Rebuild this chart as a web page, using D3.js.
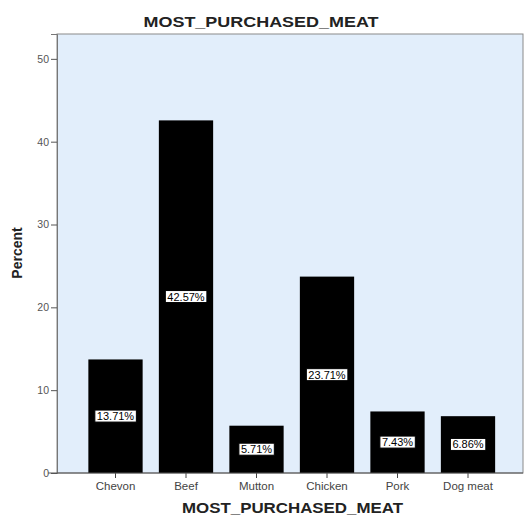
<!DOCTYPE html>
<html>
<head>
<meta charset="utf-8">
<script src="https://cdn.jsdelivr.net/npm/d3@7"></script>
<style>
  body { margin: 0; background: #fff; }
  svg { display: block; font-family: "Liberation Sans", Arial, sans-serif; }
</style>
</head>
<body>
<svg id="chart" width="528" height="519"></svg>
<script>
// Share of respondents by most purchased meat
const categories = ["Chevon", "Beef", "Mutton", "Chicken", "Pork", "Dog meat"];
const percents = [13.71, 42.57, 5.71, 23.71, 7.43, 6.86];
const yTicks = [0, 10, 20, 30, 40, 50];

const svg = d3.select("#chart");
const plot = { left: 57, right: 523, top: 34, bottom: 473 };

const x = d3.scaleBand()
  .domain(categories)
  .range([80.25, 503.25])
  .paddingInner(0.23)
  .paddingOuter(0.115);

const y = d3.scaleLinear()
  .domain([0, 53])
  .range([plot.bottom, plot.top]);

// plot background and frame
svg.append("rect")
  .attr("x", plot.left).attr("y", plot.top)
  .attr("width", plot.right - plot.left)
  .attr("height", plot.bottom - plot.top)
  .attr("fill", "#e2eefb")
  .attr("stroke", "#8a8a8a")
  .attr("stroke-width", 1);

// bars
svg.append("g").selectAll("rect")
  .data(categories)
  .join("rect")
  .attr("x", d => x(d))
  .attr("y", (d, i) => y(percents[i]))
  .attr("width", x.bandwidth())
  .attr("height", (d, i) => y(0) - y(percents[i]))
  .attr("fill", "#000");

// y axis
const yAxis = svg.append("g")
  .attr("transform", `translate(${plot.left},0)`)
  .call(d3.axisLeft(y).tickValues(yTicks).tickSize(6).tickPadding(2).tickFormat(d3.format("d")));
yAxis.select(".domain").attr("stroke", "#777");
yAxis.selectAll(".tick line").attr("stroke", "#555");
yAxis.selectAll(".tick text").attr("fill", "#555").style("font-size", "10.5px");

// x axis
const xAxis = svg.append("g")
  .attr("transform", `translate(0,${plot.bottom})`)
  .call(d3.axisBottom(x).tickSize(5).tickPadding(4));
xAxis.select(".domain").remove();
svg.append("line")
  .attr("x1", plot.left - 9).attr("x2", plot.right)
  .attr("y1", plot.bottom).attr("y2", plot.bottom)
  .attr("stroke", "#555");
xAxis.selectAll(".tick line").attr("stroke", "#444");
xAxis.selectAll(".tick text").attr("fill", "#444").style("font-size", "11.5px");

// value labels in boxes at mid-height of each bar
const labels = svg.append("g").selectAll("g")
  .data(categories)
  .join("g")
  .attr("transform", (d, i) => `translate(${x(d) + x.bandwidth() / 2},${(y(0) + y(percents[i])) / 2})`);
labels.append("text")
  .attr("text-anchor", "middle")
  .attr("dy", "0.35em")
  .style("font-size", "11px")
  .attr("fill", "#000")
  .text((d, i) => percents[i].toFixed(2) + "%");
labels.each(function() {
  const g = d3.select(this);
  const b = g.select("text").node().getBBox();
  g.insert("rect", "text")
    .attr("x", b.x - 2).attr("y", b.y)
    .attr("width", b.width + 4).attr("height", b.height)
    .attr("fill", "#fff")
    .attr("stroke", "#000")
    .attr("stroke-width", 1);
});

// titles
svg.append("text")
  .attr("x", 261).attr("y", 27)
  .attr("text-anchor", "middle")
  .attr("textLength", 235).attr("lengthAdjust", "spacingAndGlyphs")
  .style("font-size", "15.5px").style("font-weight", "bold")
  .attr("fill", "#222")
  .text("MOST_PURCHASED_MEAT");

svg.append("text")
  .attr("x", 292.5).attr("y", 513)
  .attr("text-anchor", "middle")
  .attr("textLength", 221).attr("lengthAdjust", "spacingAndGlyphs")
  .style("font-size", "14.5px").style("font-weight", "bold")
  .attr("fill", "#222")
  .text("MOST_PURCHASED_MEAT");

svg.append("text")
  .attr("transform", `translate(22,253) rotate(-90)`)
  .attr("text-anchor", "middle")
  .style("font-size", "14px").style("font-weight", "bold")
  .attr("fill", "#222")
  .text("Percent");
</script>
</body>
</html>
